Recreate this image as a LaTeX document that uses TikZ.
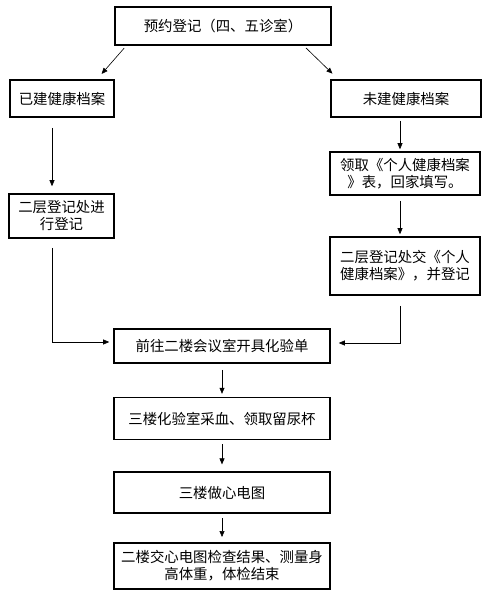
\documentclass[tikz,border=0pt]{standalone}
\usepackage{fontspec}
\setmainfont{Noto Sans CJK SC}
\usetikzlibrary{arrows.meta,positioning}
\definecolor{flowblack}{HTML}{000000}
\tikzset{
  stepbox/.style={
    rectangle, draw=flowblack, line width=1.6pt, inner sep=2pt,
    align=center, font=\fontsize{14.4}{17}\selectfont, text=flowblack
  },
  widebox/.style={stepbox, minimum width=216pt},
  sidebox/.style={stepbox, minimum width=150pt},
  arrow/.style={-{Triangle[length=6pt,width=5pt]}, line width=0.6pt, draw=flowblack}
}

\begin{document}
\begin{tikzpicture}[x=1pt,y=-1pt]
\useasboundingbox (0,0) rectangle (488,592);
\node[widebox, minimum height=38pt] (reg) at (223,26) {预约登记（四、五诊室）};
\node[stepbox, minimum width=104pt, minimum height=37pt] (have) at (62,98.5) {已建健康档案};
\node[sidebox, minimum height=37pt] (nohave) at (406,98.5) {未建健康档案};
\node[sidebox, minimum height=43pt] (sheet) at (405,173.5) {领取《个人健康档案\\》表，回家填写。};
\node[stepbox, minimum width=105pt, minimum height=44pt] (regL) at (61.5,216) {二层登记处进\\行登记};
\node[sidebox, minimum height=58pt] (regR) at (405,266) {二层登记处交《个人\\健康档案》，并登记};
\node[widebox, minimum height=34pt] (lab) at (222,346) {前往二楼会议室开具化验单};
\node[widebox, minimum height=42pt, below=33pt of lab] (blood) {三楼化验室采血、领取留尿杯};
\node[widebox, minimum height=41pt, below=31pt of blood] (ecg) {三楼做心电图};
\node[widebox, minimum height=46pt, below=28pt of ecg] (done) {二楼交心电图检查结果、测量身\\高体重，体检结束};
% branches
\draw[arrow, shorten <=3pt, shorten >=7pt] ([xshift=12pt]reg.south west) -- ([xshift=35pt]have.north);
\draw[arrow, shorten <=3pt, shorten >=8pt] ([xshift=-28pt]reg.south east) -- ([xshift=8pt]nohave.north west);
\draw[arrow, shorten <=10pt, shorten >=7pt] ([xshift=-10pt]have.south) -- ([xshift=-9.5pt]regL.north);
\draw[arrow, shorten <=3pt, shorten >=2pt] ([xshift=-6pt]nohave.south) -- ([xshift=-5pt]sheet.north);
\draw[arrow, shorten <=5pt, shorten >=2pt] ([xshift=-5pt]sheet.south) -- ([xshift=-5pt]regR.north);
% join
\draw[arrow, shorten <=9pt, shorten >=4pt] ([xshift=-9.5pt]regL.south) |- ([yshift=4pt]lab.west);
\draw[arrow, shorten <=10pt, shorten >=8pt] ([xshift=-5pt]regR.south) |- ([yshift=3pt]lab.east);
% main column
\draw[arrow, shorten <=6pt, shorten >=3pt] (lab) -- (blood);
\draw[arrow, shorten <=4pt, shorten >=7pt] (blood) -- (ecg);
\draw[arrow, shorten <=4pt, shorten >=5pt] (ecg) -- (done);
\end{tikzpicture}
\end{document}
